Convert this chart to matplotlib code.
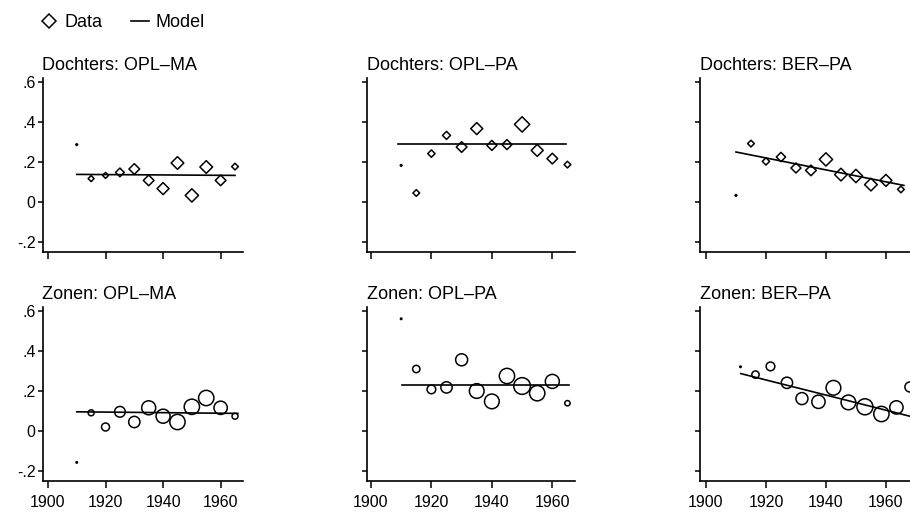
import matplotlib.pyplot as plt
from matplotlib.lines import Line2D

plt.rcParams["font.family"] = ["Liberation Sans", "DejaVu Sans"]

# =========================
# DATA
# =========================
jaren = [1910, 1915, 1920, 1925, 1930, 1935, 1940, 1945, 1950, 1955, 1960, 1965]
jaren_zonen_ber = [1911.5, 1916.5, 1921.5, 1927, 1932, 1937.5, 1942.5, 1947.5,
                   1953, 1958.5, 1963.5, 1968]

titels = ["Dochters: OPL–MA", "Dochters: OPL–PA", "Dochters: BER–PA",
          "Zonen: OPL–MA", "Zonen: OPL–PA", "Zonen: BER–PA"]

# observed values
d_opl_ma = [0.287, 0.117, 0.133, 0.148, 0.165, 0.108, 0.067, 0.195, 0.033, 0.175, 0.108, 0.177]
d_opl_pa = [0.183, 0.045, 0.242, 0.333, 0.275, 0.367, 0.283, 0.287, 0.388, 0.258, 0.217, 0.187]
d_ber_pa = [0.033, 0.292, 0.203, 0.225, 0.170, 0.158, 0.213, 0.137, 0.130, 0.087, 0.108, 0.063]
z_opl_ma = [-0.157, 0.091, 0.020, 0.096, 0.045, 0.116, 0.074, 0.045, 0.121, 0.165, 0.116, 0.074]
z_opl_pa = [0.561, 0.310, 0.208, 0.218, 0.356, 0.200, 0.148, 0.275, 0.225, 0.189, 0.248, 0.139]
z_ber_pa = [0.321, 0.282, 0.323, 0.241, 0.162, 0.146, 0.216, 0.143, 0.121, 0.085, 0.118, 0.220]

# relative weights (marker diameter)
w_d_opl_ma = [2, 6, 6, 8.7, 10.7, 10.7, 12, 12.7, 13.3, 12.7, 10.7, 6.7]
w_d_opl_pa = [2, 6.7, 7.3, 8, 10.7, 12, 10, 10, 15.3, 12, 10.7, 6.7]
w_d_ber_pa = [2, 6.7, 7.3, 9.3, 10, 10.7, 13.3, 12.7, 13.3, 12.7, 12, 6.7]
w_z_opl_ma = [1.5, 6, 8, 10.7, 11.3, 14, 14, 15.3, 15.3, 15.3, 13.3, 6]
w_z_opl_pa = [1.5, 7.3, 8.7, 11.3, 12, 14.7, 14.7, 15.3, 16.7, 15.3, 14, 5.3]
w_z_ber_pa = [1.5, 7.3, 8.7, 11.3, 12, 13.3, 14.7, 14.7, 16, 15.3, 13.3, 10]

# model (linear trend): start year, end year, start value, end value
m_d_opl_ma = [1910, 1965, 0.138, 0.133]
m_d_opl_pa = [1909, 1964.5, 0.292, 0.292]
m_d_ber_pa = [1910, 1966, 0.250, 0.083]
m_z_opl_ma = [1910, 1966, 0.096, 0.088]
m_z_opl_pa = [1910.4, 1965.5, 0.231, 0.231]
m_z_ber_pa = [1911.6, 1969, 0.287, 0.070]

yticks = [-0.2, 0, 0.2, 0.4, 0.6]
ytick_labels = ["-.2", "0", ".2", ".4", ".6"]
xticks = [1900, 1920, 1940, 1960]

panels = [
    (jaren, d_opl_ma, w_d_opl_ma, m_d_opl_ma, "D"),
    (jaren, d_opl_pa, w_d_opl_pa, m_d_opl_pa, "D"),
    (jaren, d_ber_pa, w_d_ber_pa, m_d_ber_pa, "D"),
    (jaren, z_opl_ma, w_z_opl_ma, m_z_opl_ma, "o"),
    (jaren, z_opl_pa, w_z_opl_pa, m_z_opl_pa, "o"),
    (jaren_zonen_ber, z_ber_pa, w_z_ber_pa, m_z_ber_pa, "o"),
]

# =========================
# LAYOUT (pixels)
# =========================
W, H = 910, 517
fig = plt.figure(figsize=(W / 100, H / 100), dpi=100, facecolor="white")

cols = [(42.5, 200, 1898.1, 1967.6), (367, 208, 1898.7, 1967.5), (700, 215, 1898.0, 1969.7)]
row_bottoms = [252, 481]

for i, (xs, ys, ws, model, marker) in enumerate(panels):
    r, c = divmod(i, 3)
    left, width, x0, x1 = cols[c]
    ax = fig.add_axes([left / W, 1 - row_bottoms[r] / H, width / W, 174 / H])
    ax.set_xlim(x0, x1)
    ax.set_ylim(-0.25, 0.62)

    px_to_pt = 0.72
    if marker == "D":
        sizes = [(w * px_to_pt / 1.414) ** 2 for w in ws]
    else:
        sizes = [(w * px_to_pt) ** 2 for w in ws]
    ax.scatter(xs, ys, s=sizes, marker=marker, facecolors="none",
               edgecolors="black", linewidths=1.1, zorder=3, clip_on=False)

    ax.plot([model[0], model[1]], [model[2], model[3]], color="black", lw=1.2, zorder=2)

    ax.set_title(titels[i], loc="left", fontsize=13, pad=6)

    for s in ["top", "right"]:
        ax.spines[s].set_visible(False)
    for s in ["left", "bottom"]:
        ax.spines[s].set_linewidth(1.2)

    ax.set_yticks(yticks)
    ax.set_xticks(xticks)
    ax.tick_params(axis="y", direction="out", length=3.5, width=1.1, pad=1.5, labelsize=11.5)
    ax.tick_params(axis="x", direction="out", length=5, width=1.1, pad=5, labelsize=11.5)
    if c == 0:
        ax.set_yticklabels(ytick_labels)
    else:
        ax.set_yticklabels([])
    if r == 0:
        ax.set_xticklabels([])

# =========================
# LEGEND
# =========================
fig.legend(handles=[Line2D([], [], marker="D", ls="none", mfc="none", mec="black", ms=7.5, mew=1.1),
                    Line2D([], [], color="black", lw=1.2)],
           labels=["Data", "Model"], loc="center left",
           bbox_to_anchor=(40 / W, 1 - 22.7 / H), ncol=2, frameon=False,
           fontsize=13, handlelength=1.0, handletextpad=0.35, columnspacing=1.6,
           borderpad=0, borderaxespad=0)

plt.savefig("out.png", dpi=100, facecolor="white")
